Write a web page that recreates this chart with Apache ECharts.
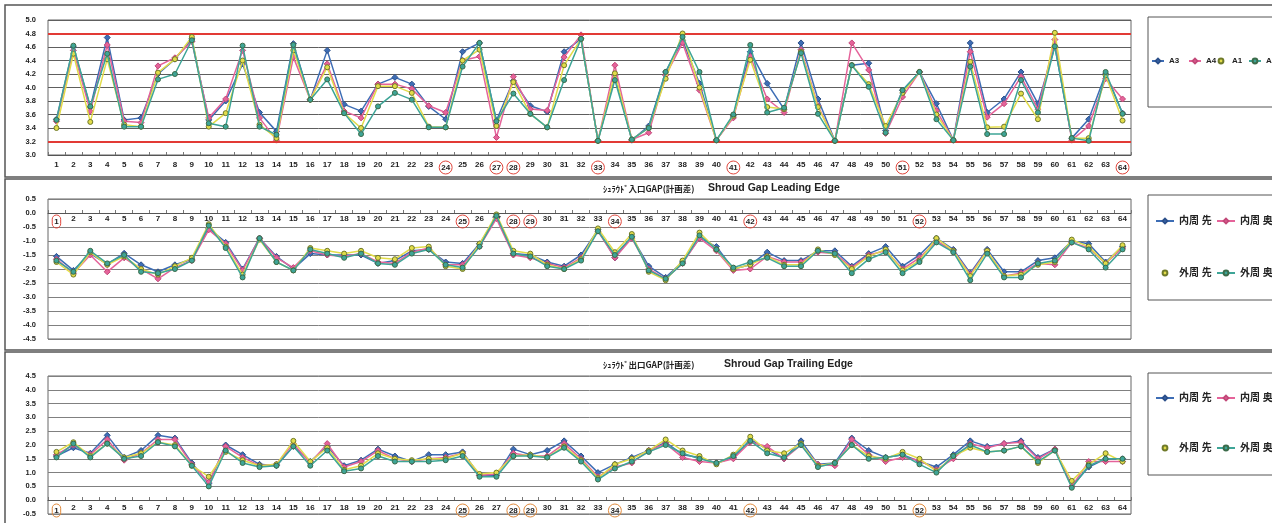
<!DOCTYPE html>
<html>
<head>
<meta charset="utf-8">
<title>Shroud Gap</title>
<script src="https://cdn.jsdelivr.net/npm/echarts@6/dist/echarts.min.js"></script>
<style>
html, body { margin: 0; padding: 0; background: #fff; }
#main { width: 1272px; height: 523px; }
</style>
</head>
<body>
<div id="main"></div>
<script>
// 横軸カテゴリ（1〜64）
var categories = ['1','2','3','4','5','6','7','8','9','10','11','12','13','14','15','16',
	'17','18','19','20','21','22','23','24','25','26','27','28','29','30','31','32',
	'33','34','35','36','37','38','39','40','41','42','43','44','45','46','47','48',
	'49','50','51','52','53','54','55','56','57','58','59','60','61','62','63','64'];

// 赤丸の付いたラベル
var circled1 = ['24','27','28','33','41','51','64'];
var circled2 = ['1','25','28','29','34','42','52'];
var circled3 = ['1','25','28','29','34','42','52'];

// 上段：A3 / A4 / A1 / A2
var p1A3 = [3.53,4.60,3.71,4.74,3.52,3.55,4.20,4.42,4.72,3.52,3.80,4.35,3.63,3.35,4.65,3.82,
	4.55,3.75,3.65,4.05,4.15,4.05,3.72,3.53,4.53,4.66,3.51,4.10,3.73,3.64,4.53,4.72,
	3.21,4.18,3.22,3.43,4.23,4.70,4.06,3.22,3.58,4.53,4.06,3.68,4.66,3.83,3.21,4.33,
	4.36,3.36,3.96,4.23,3.76,3.22,4.66,3.63,3.83,4.23,3.76,4.61,3.25,3.53,4.20,3.62];
var p1A4 = [3.50,4.55,3.65,4.63,3.50,3.48,4.32,4.44,4.68,3.55,3.83,4.55,3.55,3.22,4.45,3.82,
	4.35,3.65,3.55,4.05,4.05,3.98,3.73,3.63,4.40,4.46,3.26,4.16,3.68,3.66,4.45,4.78,
	3.21,4.33,3.23,3.33,4.18,4.66,3.96,3.22,3.55,4.46,3.83,3.63,4.56,3.73,3.21,4.66,
	4.26,3.32,3.86,4.23,3.66,3.22,4.53,3.56,3.76,4.16,3.68,4.71,3.22,3.43,4.13,3.83];
var p1A1 = [3.40,4.50,3.49,4.42,3.45,3.42,4.22,4.42,4.75,3.42,3.62,4.40,3.45,3.25,4.55,3.82,
	4.30,3.62,3.40,4.02,4.02,3.92,3.42,3.41,4.40,4.56,3.43,4.08,3.61,3.41,4.33,4.72,
	3.21,4.21,3.23,3.40,4.13,4.80,4.00,3.22,3.58,4.41,3.71,3.68,4.53,3.71,3.21,4.33,
	4.05,3.43,3.92,4.23,3.60,3.22,4.38,3.41,3.42,3.91,3.53,4.81,3.25,3.25,4.18,3.51];
var p1A2 = [3.52,4.62,3.72,4.50,3.42,3.42,4.12,4.20,4.70,3.47,3.42,4.62,3.42,3.30,4.63,3.82,
	4.12,3.62,3.31,3.72,3.92,3.82,3.41,3.41,4.31,4.66,3.50,3.91,3.61,3.41,4.11,4.72,
	3.21,4.11,3.23,3.40,4.23,4.75,4.23,3.22,3.60,4.63,3.63,3.70,4.51,3.61,3.21,4.33,
	4.01,3.33,3.96,4.23,3.53,3.22,4.31,3.31,3.31,4.11,3.63,4.61,3.25,3.21,4.23,3.61];
// 上限・下限
var limits = [4.8, 3.2];

// 中段：入口GAP
var p2In1 = [-1.55,-2.05,-1.45,-1.83,-1.44,-1.85,-2.10,-1.85,-1.65,-0.55,-1.05,-2.00,-0.90,-1.55,-2.00,-1.45,
	-1.50,-1.50,-1.50,-1.80,-1.70,-1.35,-1.30,-1.75,-1.80,-1.10,-0.15,-1.45,-1.50,-1.75,-1.90,-1.50,
	-0.60,-1.60,-0.85,-1.90,-2.30,-1.75,-0.90,-1.20,-2.00,-1.85,-1.40,-1.70,-1.70,-1.35,-1.35,-1.90,
	-1.45,-1.20,-1.90,-1.50,-0.90,-1.30,-2.15,-1.30,-2.10,-2.10,-1.70,-1.60,-1.00,-1.10,-1.75,-1.20];
var p2In2 = [-1.65,-2.15,-1.50,-2.10,-1.60,-2.00,-2.35,-1.95,-1.70,-0.60,-1.10,-2.05,-0.90,-1.60,-1.95,-1.35,
	-1.50,-1.55,-1.45,-1.75,-1.80,-1.40,-1.25,-1.85,-1.85,-1.20,-0.20,-1.50,-1.60,-1.80,-1.95,-1.60,
	-0.65,-1.60,-0.90,-2.00,-2.35,-1.80,-0.90,-1.35,-2.05,-2.00,-1.55,-1.75,-1.75,-1.40,-1.45,-1.95,
	-1.50,-1.35,-2.00,-1.60,-1.00,-1.35,-2.20,-1.35,-2.25,-2.15,-1.80,-1.85,-1.05,-1.25,-1.80,-1.25];
var p2Out1 = [-1.75,-2.20,-1.40,-1.85,-1.55,-2.00,-2.20,-1.90,-1.60,-0.40,-1.20,-2.20,-0.95,-1.75,-2.05,-1.25,
	-1.35,-1.45,-1.35,-1.60,-1.65,-1.25,-1.20,-1.90,-2.00,-1.10,-0.05,-1.35,-1.45,-1.85,-2.00,-1.65,
	-0.55,-1.40,-0.75,-2.10,-2.40,-1.70,-0.70,-1.30,-2.00,-1.85,-1.55,-1.85,-1.85,-1.30,-1.50,-2.00,
	-1.55,-1.30,-2.05,-1.70,-0.90,-1.35,-2.25,-1.35,-2.25,-2.20,-1.85,-1.75,-0.95,-1.20,-1.80,-1.15];
var p2Out2 = [-1.70,-2.10,-1.35,-1.80,-1.50,-2.10,-2.15,-2.00,-1.70,-0.45,-1.25,-2.30,-0.90,-1.75,-2.05,-1.30,
	-1.45,-1.60,-1.45,-1.80,-1.85,-1.45,-1.30,-1.85,-1.95,-1.20,-0.10,-1.45,-1.55,-1.90,-2.00,-1.70,
	-0.65,-1.50,-0.85,-2.05,-2.35,-1.80,-0.80,-1.30,-1.95,-1.75,-1.60,-1.90,-1.90,-1.35,-1.45,-2.15,
	-1.65,-1.40,-2.15,-1.75,-1.05,-1.40,-2.40,-1.45,-2.30,-2.30,-1.80,-1.70,-1.05,-1.30,-1.95,-1.30];

// 下段：出口GAP
var p3In1 = [1.60,1.90,1.70,2.35,1.55,1.80,2.35,2.25,1.35,0.60,2.00,1.65,1.30,1.25,1.95,1.40,
	1.95,1.25,1.45,1.85,1.60,1.40,1.65,1.65,1.75,0.90,0.90,1.85,1.65,1.80,2.15,1.60,
	1.00,1.30,1.55,1.80,2.10,1.65,1.55,1.35,1.55,2.20,1.85,1.50,2.15,1.30,1.35,2.25,
	1.80,1.55,1.65,1.40,1.20,1.65,2.15,1.95,2.05,2.15,1.55,1.85,0.50,1.20,1.50,1.50];
var p3In2 = [1.65,2.00,1.65,2.20,1.45,1.70,2.20,2.20,1.30,0.65,1.95,1.55,1.25,1.30,2.05,1.35,
	2.05,1.20,1.40,1.80,1.50,1.40,1.50,1.55,1.70,0.90,0.95,1.70,1.60,1.60,2.05,1.50,
	0.85,1.20,1.35,1.80,2.05,1.55,1.40,1.35,1.50,2.10,1.95,1.50,2.00,1.30,1.25,2.20,
	1.65,1.40,1.55,1.45,1.10,1.50,2.05,1.90,2.05,2.10,1.50,1.85,0.50,1.40,1.40,1.40];
var p3Out1 = [1.75,2.10,1.60,2.05,1.55,1.70,2.10,2.00,1.25,0.85,1.75,1.45,1.25,1.30,2.15,1.40,
	1.90,1.10,1.25,1.70,1.50,1.45,1.50,1.50,1.70,0.95,1.00,1.60,1.65,1.55,1.95,1.45,
	0.80,1.30,1.50,1.80,2.20,1.80,1.60,1.30,1.65,2.30,1.80,1.70,2.05,1.25,1.35,2.00,
	1.60,1.50,1.75,1.50,1.05,1.60,1.90,1.75,1.80,1.95,1.35,1.80,0.70,1.30,1.70,1.40];
var p3Out2 = [1.55,2.05,1.55,2.05,1.50,1.60,2.10,1.95,1.25,0.50,1.80,1.35,1.20,1.25,1.95,1.25,
	1.80,1.05,1.15,1.60,1.40,1.40,1.40,1.45,1.60,0.85,0.85,1.60,1.60,1.55,1.90,1.40,
	0.75,1.15,1.40,1.75,2.00,1.70,1.50,1.35,1.60,2.15,1.70,1.55,2.00,1.20,1.35,2.00,
	1.50,1.55,1.65,1.30,1.00,1.60,2.00,1.75,1.80,1.95,1.40,1.80,0.45,1.25,1.50,1.50];

var names1 = ['A3', 'A4', 'A1', 'A2'];
var names2 = ['内周 先', '内周 奥', '外周 先', '外周 奥'];

var FONT = '"Liberation Sans", "Noto Sans CJK JP", sans-serif';
var colors = ['#3d6db5', '#e5639a', '#e2dc4a', '#3ea597'];
var borders = ['#2b4f8a', '#c24878', '#6f7a2a', '#3c6b4a'];
var symbols = ['diamond', 'diamond', 'circle', 'circle'];

/**
 * X軸ラベル（赤丸付き）
 */
function makeXAxis(gridIndex, circled, opt) {
	return {
		type : 'category',
		gridIndex : gridIndex,
		data : categories,
		boundaryGap : true,
		position : opt.position,
		offset : opt.offset,
		axisLine : { onZero : false, lineStyle : { color : '#555', width : 1 } },
		axisTick : { show : true, inside : opt.tickInside, length : 3, interval : 0, lineStyle : { color : '#777' } },
		axisLabel : {
			interval : 0,
			inside : opt.labelInside,
			margin : opt.margin,
			fontSize : 8,
			fontWeight : 'bold',
			fontFamily : FONT,
			color : '#222',
			formatter : function(v) {
				return circled.indexOf(v) >= 0 ? '{c|' + v + '}' : v;
			},
			rich : {
				c : {
					fontSize : 8, fontWeight : 'bold', color : '#222',
					borderColor : opt.circleColor, borderWidth : 1, borderRadius : 9,
					padding : [3, 2, 2, 2]
				}
			}
		}
	};
}

/**
 * Y軸
 */
function makeYAxis(gridIndex, min, max, interval, gridColor) {
	return {
		type : 'value',
		gridIndex : gridIndex,
		min : min,
		max : max,
		interval : interval,
		axisLine : { show : false },
		axisTick : { show : false },
		axisLabel : {
			fontSize : 7.5,
			fontWeight : 'bold',
			fontFamily : FONT,
			color : '#222',
			margin : 12,
			formatter : function(v) { return v.toFixed(1); }
		},
		splitLine : { lineStyle : { color : gridColor, width : 1 } }
	};
}

/**
 * 系列
 */
function makeSeries(name, data, idx, axisIndex) {
	return {
		name : name,
		type : 'line',
		xAxisIndex : axisIndex,
		yAxisIndex : axisIndex,
		data : data,
		symbol : symbols[idx],
		symbolSize : idx < 2 ? 6 : 5,
		lineStyle : { color : colors[idx], width : 1.5 },
		itemStyle : { color : colors[idx], borderColor : borders[idx], borderWidth : 1 },
		emphasis : { disabled : true },
		animation : false,
		z : 3 + idx
	};
}

/**
 * 凡例（1項目ずつ配置）
 */
function makeLegend(name, left, top, markerOnly, fontSize, itemWidth) {
	return {
		data : [ markerOnly ? { name : name, lineStyle : { opacity : 0 } } : name ],
		left : left,
		top : top,
		padding : 0,
		itemWidth : itemWidth,
		itemHeight : 6,
		itemGap : 0,
		textStyle : { fontSize : fontSize, fontWeight : 'bold', color : '#222', fontFamily : FONT }
	};
}

function createChart() {
	var myChart = echarts.init(document.getElementById('main'));

	var series = [];
	var top1 = [p1A3, p1A4, p1A1, p1A2];
	var mid = [p2In1, p2In2, p2Out1, p2Out2];
	var bot = [p3In1, p3In2, p3Out1, p3Out2];
	for (var i = 0; i < 4; i++) {
		series.push(makeSeries(names1[i], top1[i], i, 0));
	}
	// 上限・下限ライン
	series[0].markLine = {
		silent : true,
		symbol : 'none',
		label : { show : false },
		lineStyle : { color : '#e23a35', width : 2, type : 'solid' },
		data : [ { yAxis : limits[0] }, { yAxis : limits[1] } ]
	};
	for (var j = 0; j < 4; j++) {
		series.push(makeSeries(names2[j], mid[j], j, 1));
	}
	for (var k = 0; k < 4; k++) {
		series.push(makeSeries(names2[k], bot[k], k, 2));
	}

	option = {
		backgroundColor : '#fff',
		animation : false,
		title : [
			{ text : 'ｼｭﾗｳﾄﾞ入口GAP(計画差)', left : 598, top : 180,
			  textStyle : { fontSize : 8.5, fontWeight : 'bold', color : '#222', fontFamily : '"Noto Sans CJK JP"' } },
			{ text : 'Shroud Gap Leading Edge', left : 703, top : 178,
			  textStyle : { fontSize : 10.5, fontWeight : 'bold', color : '#222', fontFamily : FONT } },
			{ text : 'ｼｭﾗｳﾄﾞ出口GAP(計画差)', left : 598, top : 356,
			  textStyle : { fontSize : 8.5, fontWeight : 'bold', color : '#222', fontFamily : '"Noto Sans CJK JP"' } },
			{ text : 'Shroud Gap Trailing Edge', left : 719, top : 354,
			  textStyle : { fontSize : 10.5, fontWeight : 'bold', color : '#222', fontFamily : FONT } }
		],
		legend : [
			makeLegend(names1[0], 1151, 57, false, 8, 12),
			makeLegend(names1[1], 1188, 57, false, 8, 12),
			makeLegend(names1[2], 1214, 57, true, 8, 12),
			makeLegend(names1[3], 1248, 57, false, 8, 12),
			makeLegend(names2[0], 1155, 216, false, 10, 18),
			makeLegend(names2[1], 1216, 216, false, 10, 18),
			makeLegend(names2[2], 1155, 268, true, 10, 18),
			makeLegend(names2[3], 1216, 268, false, 10, 18),
			makeLegend(names2[0], 1155, 393, false, 10, 18),
			makeLegend(names2[1], 1216, 393, false, 10, 18),
			makeLegend(names2[2], 1155, 443, true, 10, 18),
			makeLegend(names2[3], 1216, 443, false, 10, 18)
		],
		grid : [
			{ left : 48, top : 20, width : 1083, height : 135, show : true, borderColor : '#666', borderWidth : 1 },
			{ left : 48, top : 199, width : 1083, height : 140, show : true, borderColor : '#666', borderWidth : 1 },
			{ left : 48, top : 376, width : 1083, height : 138, show : true, borderColor : '#666', borderWidth : 1 }
		],
		xAxis : [
			makeXAxis(0, circled1, { position : 'bottom', offset : 0, tickInside : true, labelInside : false, margin : 6, circleColor : '#e0463c' }),
			// 0の線に沿ってラベルを置く
			makeXAxis(1, circled2, { position : 'top', offset : -14, tickInside : false, labelInside : true, margin : 2, circleColor : '#e0463c' }),
			makeXAxis(2, circled3, { position : 'bottom', offset : -14, tickInside : true, labelInside : false, margin : 4, circleColor : '#e08a3c' })
		],
		yAxis : [
			makeYAxis(0, 3.0, 5.0, 0.2, '#5e5e5e'),
			makeYAxis(1, -4.5, 0.5, 0.5, '#808080'),
			makeYAxis(2, -0.5, 4.5, 0.5, '#808080')
		],
		graphic : [
			// パネル枠
			{ type : 'rect', shape : { x : 5, y : 5, width : 1300, height : 172 }, style : { fill : null, stroke : '#555', lineWidth : 1.5 }, silent : true },
			{ type : 'rect', shape : { x : 5, y : 179, width : 1300, height : 171 }, style : { fill : null, stroke : '#555', lineWidth : 1.5 }, silent : true },
			{ type : 'rect', shape : { x : 5, y : 352, width : 1300, height : 180 }, style : { fill : null, stroke : '#555', lineWidth : 1.5 }, silent : true },
			// 凡例枠
			{ type : 'rect', shape : { x : 1148, y : 17, width : 140, height : 90 }, style : { fill : null, stroke : '#555', lineWidth : 1 }, silent : true },
			{ type : 'rect', shape : { x : 1148, y : 195, width : 140, height : 105 }, style : { fill : null, stroke : '#555', lineWidth : 1 }, silent : true },
			{ type : 'rect', shape : { x : 1148, y : 373, width : 140, height : 102 }, style : { fill : null, stroke : '#555', lineWidth : 1 }, silent : true }
		],
		series : series
	};

	myChart.setOption(option);
}

createChart();
</script>
</body>
</html>
